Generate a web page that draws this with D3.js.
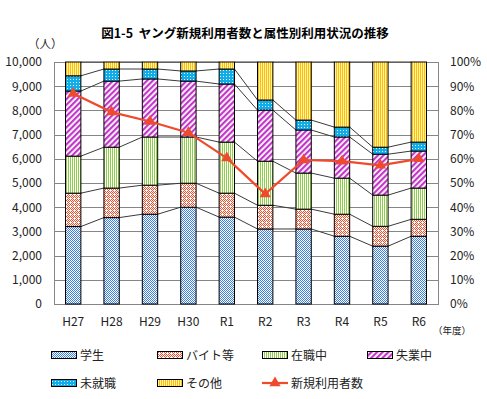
<!DOCTYPE html>
<html>
<head>
<meta charset="utf-8">
<script src="https://cdn.jsdelivr.net/npm/d3@7"></script>
<style>
  body { margin: 0; background: #fff; }
  svg { display: block; font-family: "Noto Sans CJK JP", "Noto Sans", sans-serif; }
</style>
</head>
<body>
<svg id="chart" width="487" height="399"></svg>
<script>
"use strict";

// ─── Data ────────────────────────────────────────────────────────────────────
const categories = ["H27", "H28", "H29", "H30", "R1", "R2", "R3", "R4", "R5", "R6"];
const seriesNames = ["学生", "バイト等", "在職中", "失業中", "未就職", "その他"];
// share of each attribute, % (stack sums to 100)
const student    = [32.0, 35.7, 37.1, 40.0, 35.9, 31.0, 31.0, 28.0, 23.9, 28.0];
const partTime   = [13.8, 12.2, 12.0,  9.9,  9.9,  9.8,  8.2,  9.1,  8.2,  7.0];
const employed   = [15.3, 16.9, 19.9, 19.1, 21.1, 18.2, 14.9, 14.9, 12.9, 12.9];
const unemployed = [26.9, 27.3, 24.0, 23.1, 24.0, 21.1, 17.8, 17.0, 16.9, 15.3];
const notYet     = [ 6.3,  5.0,  4.1,  4.2,  6.2,  4.2,  4.1,  4.1,  2.9,  3.7];
const other      = [ 5.7,  2.9,  2.9,  3.7,  2.9, 15.7, 24.0, 26.9, 35.2, 33.1];
// 新規利用者数 (people)
const newUsers   = [8700, 7930, 7540, 7080, 6030, 4550, 5950, 5900, 5730, 6000];
const countTicks = [0, 1000, 2000, 3000, 4000, 5000, 6000, 7000, 8000, 9000, 10000];
const pctTicks   = [0, 10, 20, 30, 40, 50, 60, 70, 80, 90, 100];

const seriesArrays = [student, partTime, employed, unemployed, notYet, other];
const rows = categories.map((c, i) => {
  const r = { cat: c };
  seriesNames.forEach((s, k) => { r[s] = seriesArrays[k][i]; });
  return r;
});

const svg = d3.select("#chart");
const plot = { left: 54, right: 438, top: 62, bottom: 304 };
const LINE_RED = "#ef4a2c";

// ─── Patterns ────────────────────────────────────────────────────────────────
const defs = svg.append("defs");
function pattern(id, w, h, bg, build) {
  const p = defs.append("pattern").attr("id", id)
    .attr("patternUnits", "userSpaceOnUse").attr("width", w).attr("height", h);
  p.append("rect").attr("width", w).attr("height", h).attr("fill", bg);
  build(p);
}
function dots(p, pts, color) {
  pts.forEach(([px, py]) => p.append("rect").attr("x", px).attr("y", py)
    .attr("width", 1).attr("height", 1).attr("fill", color));
}
// 学生: fine blue checker
pattern("p-student", 2, 2, "#ffffff", p => dots(p, [[0, 0], [1, 1]], "#3f7fe0"));
// バイト等: red lattice of dots
pattern("p-part", 4, 4, "#ffffff", p =>
  dots(p, [[0, 0], [2, 0], [1, 1], [3, 1], [0, 2], [1, 3], [3, 3]], "#f0502e"));
// 在職中: green vertical lines
pattern("p-employed", 2, 2, "#ffffff", p => {
  p.append("rect").attr("width", 1).attr("height", 2).attr("fill", "#8fce4a");
});
// 失業中: purple diagonal stripes
pattern("p-unemployed", 4, 4, "#ffffff", p => {
  p.attr("patternTransform", "rotate(45)");
  p.append("rect").attr("width", 2.2).attr("height", 4).attr("fill", "#c236c8");
});
// 未就職: cyan with white dots
pattern("p-notyet", 3, 3, "#10aee8", p => dots(p, [[1, 1]], "#ffffff"));
// その他: yellow vertical stripes
pattern("p-other", 2, 2, "#fff3b0", p => {
  p.append("rect").attr("width", 1).attr("height", 2).attr("fill", "#ffbf00");
});
const fills = ["url(#p-student)", "url(#p-part)", "url(#p-employed)",
               "url(#p-unemployed)", "url(#p-notyet)", "url(#p-other)"];

// ─── Scales ──────────────────────────────────────────────────────────────────
const x = d3.scaleBand().domain(categories)
  .range([plot.left, plot.right]).paddingInner(0.6).paddingOuter(0.3);
const yPct = d3.scaleLinear().domain([0, 100]).range([plot.bottom, plot.top]);
const yCnt = d3.scaleLinear().domain([0, 10000]).range([plot.bottom, plot.top]);

// ─── Title ───────────────────────────────────────────────────────────────────
svg.append("text").attr("x", 245).attr("y", 38).attr("text-anchor", "middle")
  .attr("font-size", 12.5).attr("font-weight", "bold").attr("fill", "#000")
  .style("white-space", "pre").attr("xml:space", "preserve")
  .text("図1-5  ヤング新規利用者数と属性別利用状況の推移");
svg.append("text").attr("x", 28).attr("y", 48)
  .attr("font-size", 11.5).attr("fill", "#222").text("（人）");

// ─── Gridlines & frame ──────────────────────────────────────────────────────
svg.append("g").selectAll("line").data(pctTicks).join("line")
  .attr("x1", plot.left).attr("x2", plot.right)
  .attr("y1", d => Math.round(yPct(d)) + 0.5).attr("y2", d => Math.round(yPct(d)) + 0.5)
  .attr("stroke", "#868686").attr("stroke-width", 1);
svg.append("rect")
  .attr("x", plot.left + 0.5).attr("y", Math.round(plot.top) + 0.5)
  .attr("width", plot.right - plot.left).attr("height", Math.round(plot.bottom) - Math.round(plot.top))
  .attr("fill", "none").attr("stroke", "#868686");

// ─── Axes ────────────────────────────────────────────────────────────────────
const leftAxis = svg.append("g").attr("transform", `translate(${plot.left - 12},0)`)
  .call(d3.axisLeft(yCnt).tickValues(countTicks).tickFormat(d3.format(",")).tickSize(0));
const rightAxis = svg.append("g").attr("transform", `translate(${plot.right + 12},0)`)
  .call(d3.axisRight(yPct).tickValues(pctTicks).tickFormat(d => d + "%").tickSize(0));
const bottomAxis = svg.append("g").attr("transform", `translate(0,${plot.bottom + 10})`)
  .call(d3.axisBottom(x).tickSize(0));
[leftAxis, rightAxis, bottomAxis].forEach(a => {
  a.select(".domain").remove();
  a.selectAll("text").attr("font-size", 12).attr("fill", "#222")
    .attr("font-family", "'Noto Sans CJK JP', sans-serif");
});
leftAxis.selectAll("text").attr("x", 0);
rightAxis.selectAll("text").attr("x", 0);
svg.append("text").attr("x", 433).attr("y", 334)
  .attr("font-size", 9.5).attr("fill", "#222").text("（年度）");

// ─── Stacked bars ────────────────────────────────────────────────────────────
const stacked = d3.stack().keys(seriesNames)(rows);

// connector lines between neighbouring bars at every stack boundary
const conn = svg.append("g").attr("stroke", "#3a3a3a").attr("stroke-width", 1).attr("fill", "none");
stacked.forEach(layer => {
  for (let i = 0; i < layer.length - 1; i++) {
    conn.append("line")
      .attr("x1", x(categories[i]) + x.bandwidth())
      .attr("y1", yPct(layer[i][1]))
      .attr("x2", x(categories[i + 1]))
      .attr("y2", yPct(layer[i + 1][1]));
  }
});

svg.append("g").selectAll("g").data(stacked).join("g")
  .attr("fill", (d, k) => fills[k])
  .selectAll("rect").data(d => d).join("rect")
  .attr("x", d => x(d.data.cat))
  .attr("y", d => yPct(d[1]))
  .attr("width", x.bandwidth())
  .attr("height", d => yPct(d[0]) - yPct(d[1]))
  .attr("stroke", "#000").attr("stroke-width", 1);

// ─── New users line ──────────────────────────────────────────────────────────
const cx = c => x(c) + x.bandwidth() / 2;
const lineGen = d3.line().x((d, i) => cx(categories[i])).y(d => yCnt(d));
svg.append("path").datum(newUsers).attr("d", lineGen)
  .attr("fill", "none").attr("stroke", LINE_RED).attr("stroke-width", 2.2);
const tri = d3.symbol().type(d3.symbolTriangle).size(55);
svg.append("g").selectAll("path").data(newUsers).join("path")
  .attr("d", tri)
  .attr("transform", (d, i) => `translate(${cx(categories[i])},${yCnt(d)})`)
  .attr("fill", LINE_RED);

// ─── Legend ──────────────────────────────────────────────────────────────────
const legendItems = seriesNames.map((s, k) => ({ name: s, fill: fills[k], type: "bar" }))
  .concat([{ name: "新規利用者数", type: "line" }]);
const legendX = [51, 157, 262, 367];
const legendY = [355, 383];
const lg = svg.append("g").selectAll("g").data(legendItems).join("g")
  .attr("transform", (d, i) => `translate(${legendX[i % 4]},${legendY[Math.floor(i / 4)]})`);
lg.filter(d => d.type === "bar").append("rect")
  .attr("x", 0.5).attr("y", -3.5).attr("width", 25).attr("height", 7)
  .attr("fill", d => d.fill).attr("stroke", "#000").attr("stroke-width", 1);
lg.filter(d => d.type === "line").append("line")
  .attr("x1", 0).attr("x2", 26).attr("y1", 0).attr("y2", 0)
  .attr("stroke", LINE_RED).attr("stroke-width", 2.2);
lg.filter(d => d.type === "line").append("path")
  .attr("d", tri).attr("transform", "translate(13,0)").attr("fill", LINE_RED);
lg.append("text").attr("x", 29).attr("y", 4.5)
  .attr("font-size", 12).attr("fill", "#222").text(d => d.name);
</script>
</body>
</html>
